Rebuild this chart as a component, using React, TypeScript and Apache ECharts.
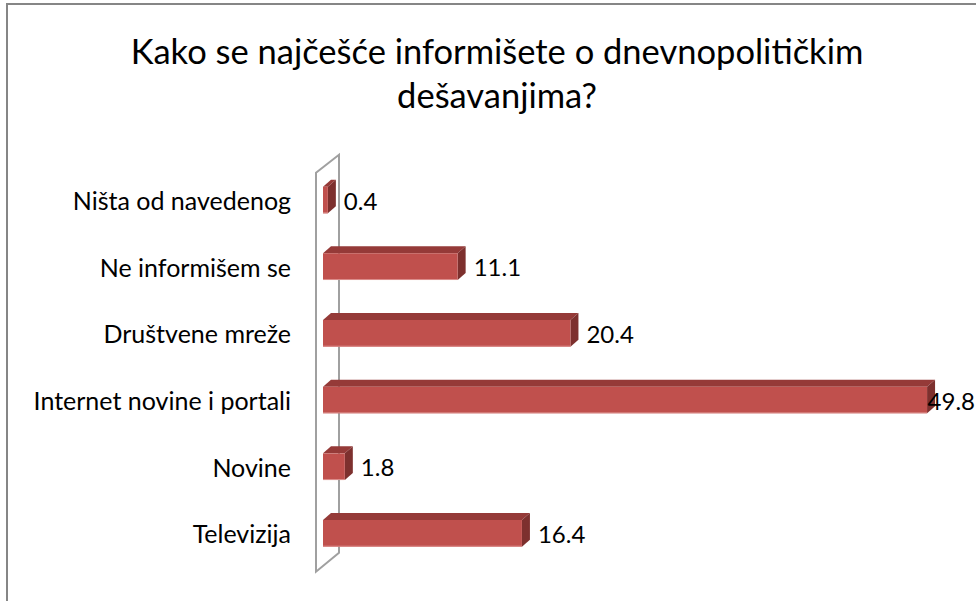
import React, { useEffect, useRef } from "react";
import * as echarts from "echarts";

// Categories listed bottom -> top (as in the source chart)
const categories = [
  "Televizija",
  "Novine",
  "Internet novine i portali",
  "Društvene mreže",
  "Ne informišem se",
  "Ništa od navedenog",
];
const values = [16.4, 1.8, 49.8, 20.4, 11.1, 0.4];
const titleLines = ["Kako se najčešće informišete o dnevnopolitičkim", "dešavanjima?"];

const FONT = "Lato, 'Noto Sans', sans-serif";
const GRID_LEFT = 323;
const GRID_TOP = 166.7;
const GRID_HEIGHT = 400;
const X_MAX = 50;
const PX_PER_UNIT = 12.13;
const DX = 8;
const DY = 7;
const CHART_W = 976;

export default function App() {
  const ref = useRef<HTMLDivElement>(null);
  useEffect(() => {
    document.body.style.margin = "0";
    const chart = echarts.init(ref.current!, undefined, { renderer: "svg" });
    const gridWidth = X_MAX * PX_PER_UNIT;
    const labelFont = `24px ${FONT}`;
    const option: any = {
      animation: false,
      backgroundColor: "#fff",
      grid: {
        left: GRID_LEFT,
        top: GRID_TOP,
        width: gridWidth,
        height: GRID_HEIGHT,
        containLabel: false,
      },
      xAxis: {
        type: "value",
        min: 0,
        max: X_MAX,
        show: false,
        splitLine: { show: false },
      },
      yAxis: {
        type: "category",
        data: categories,
        axisLine: { show: false },
        axisTick: { show: false },
        axisLabel: {
          margin: 32,
          color: "#000",
          fontFamily: FONT,
          fontSize: 25,
        },
      },
      graphic: [
        {
          type: "rect",
          z: 0,
          shape: { x: 7, y: 4, width: 1000, height: 700 },
          style: { fill: "none", stroke: "#868686", lineWidth: 2 },
          silent: true,
        },
        {
          type: "polygon",
          z: 0,
          shape: {
            points: [
              [GRID_LEFT - 7, GRID_TOP + 6],
              [GRID_LEFT + 16, GRID_TOP - 12],
              [GRID_LEFT + 16, GRID_TOP + GRID_HEIGHT - 14],
              [GRID_LEFT - 7, GRID_TOP + GRID_HEIGHT + 5],
            ],
          },
          style: { fill: "#fff", stroke: "#A0A0A0", lineWidth: 2 },
          silent: true,
        },
        {
          type: "text",
          z: 10,
          x: 497,
          y: 72,
          style: {
            text: titleLines.join("\n"),
            font: `34.5px ${FONT}`,
            fill: "#000",
            align: "center",
            verticalAlign: "middle",
            lineHeight: 44,
          },
        },
      ],
      series: [
        {
          type: "custom",
          z: 5,
          data: values.map((v, i) => [i, v]),
          encode: { x: 1, y: 0 },
          renderItem: (params: any, api: any) => {
            const idx = api.value(0);
            const val = api.value(1);
            const start = api.coord([0, idx]);
            const end = api.coord([val, idx]);
            const band = api.size([0, 1])[1];
            const h = band * 0.4;
            const x0 = start[0];
            const x1 = end[0];
            const y0 = start[1] - h / 2;
            const y1 = start[1] + h / 2;
            const text = String(val);
            const tw = echarts.format.getTextRect
              ? (echarts.format as any).getTextRect(text, labelFont).width
              : 46;
            let tx = x1 + DX + 8;
            if (tx + tw > CHART_W - 1) tx = CHART_W - 1 - tw;
            return {
              type: "group",
              children: [
                {
                  type: "polygon",
                  shape: {
                    points: [
                      [x0, y0],
                      [x0 + DX, y0 - DY],
                      [x1 + DX, y0 - DY],
                      [x1, y0],
                    ],
                  },
                  style: { fill: "#953A38" },
                },
                {
                  type: "polygon",
                  shape: {
                    points: [
                      [x1, y0],
                      [x1 + DX, y0 - DY],
                      [x1 + DX, y1 - DY],
                      [x1, y1],
                    ],
                  },
                  style: { fill: "#7D302E" },
                },
                {
                  type: "rect",
                  shape: { x: x0, y: y0, width: x1 - x0, height: h },
                  style: { fill: "#C0504D" },
                },
                {
                  type: "line",
                  shape: { x1: x0, y1: y1 - 0.5, x2: x1, y2: y1 - 0.5 },
                  style: { stroke: "#DC8F8D", lineWidth: 1 },
                },
                {
                  type: "text",
                  z2: 20,
                  x: tx,
                  y: start[1],
                  style: {
                    text,
                    font: labelFont,
                    fill: "#000",
                    align: "left",
                    verticalAlign: "middle",
                  },
                },
              ],
            };
          },
        },
      ],
    };
    chart.setOption(option);
    return () => chart.dispose();
  }, []);
  return (
    <div
      ref={ref}
      style={{ position: "fixed", left: 0, top: 0, width: 976, height: 601 }}
    />
  );
}
